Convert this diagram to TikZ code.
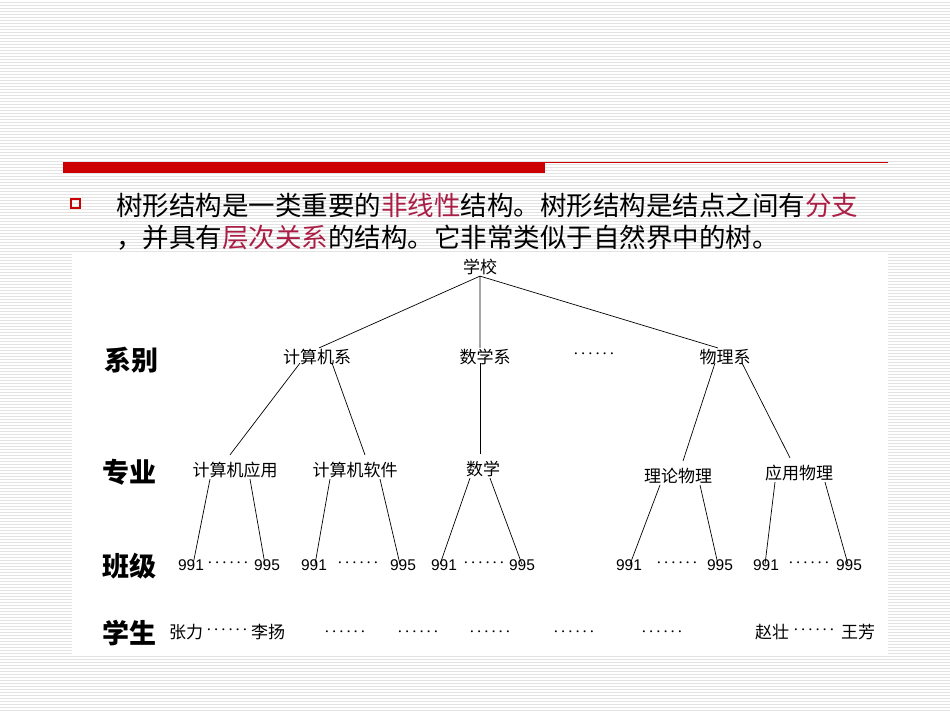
\documentclass[tikz,border=0pt]{standalone}
\usepackage{fontspec}
\setmainfont{Liberation Sans}
\newfontfamily\cjk{Noto Sans CJK SC}
\begin{document}
\begin{tikzpicture}[x=1pt,y=-1pt,
  tn/.style={font=\cjk\fontsize{17}{17}\selectfont,inner sep=1pt},
  num/.style={font=\fontsize{15.5}{15.5}\selectfont,inner sep=1pt},
  dd/.style={font=\cjk\bfseries\fontsize{7.2}{7.2}\selectfont,inner sep=1pt},
  lab/.style={font=\cjk\bfseries\fontsize{27}{27}\selectfont,inner sep=0pt},
  edge/.style={draw,line width=0.7pt}]
\useasboundingbox (0,0) rectangle (950,713);
\fill[white] (0,0) rectangle (950,713);
\foreach \y in {2,5,...,712} \draw[black!11,line width=0.8pt] (0,\y) -- (950,\y);
\fill[white] (72,252) rectangle (888,655);
\fill[red!80!black] (63,162) rectangle (545,173);
\draw[red!80!black,line width=0.8pt] (545,162) -- (888,162);
\draw[red!80!black,line width=1.3pt] (71,199) rectangle (80,208);
\node[anchor=west,inner sep=0pt,font=\cjk\fontsize{26.5}{26.5}\selectfont] (l1) at (116,205)
 {树形结构是一类重要的\textcolor[RGB]{170,30,70}{非线性}结构。树形结构是结点之间有\textcolor[RGB]{170,30,70}{分支}};
\node[anchor=west,inner sep=0pt,font=\cjk\fontsize{26.5}{26.5}\selectfont] (l2) at (116,238)
 {，并具有\textcolor[RGB]{170,30,70}{层次关系}的结构。它非常类似于自然界中的树。};
% labels
\node[lab] (xb) at (131,360) {系别};
\node[lab] (zy) at (129,472) {专业};
\node[lab] (bj) at (129,566) {班级};
\node[lab] (xs) at (129,633) {学生};
% tree
\node[tn] (root) at (480,267) {学校};
\node[tn] (jsj) at (317,357) {计算机系};
\node[tn] (sx) at (485,357) {数学系};
\node[dd] (dots1) at (594,355) {······};
\node[tn] (wl) at (725,357) {物理系};
\node[tn] (jy) at (235,470) {计算机应用};
\node[tn] (jr) at (355,470) {计算机软件};
\node[tn] (sxz) at (483,469) {数学};
\node[tn] (ll) at (678,476) {理论物理};
\node[tn] (yy) at (799,473) {应用物理};
\foreach \n/\a/\d/\b in {a/191/228/267, b/314/358/403, c/444/484/522, d/629/677/720, e/766/809/849}{
  \node[num] (\n1) at (\a,565) {991};
  \node[dd] (\n d) at (\d,564) {······};
  \node[num] (\n5) at (\b,565) {995};
}
\node[tn] (s1) at (186,632) {张力};
\node[dd] (s2) at (227,631) {······};
\node[tn] (s3) at (268,632) {李扬};
\node[dd] (s4) at (345,633) {······};
\node[dd] (s5) at (418,633) {······};
\node[dd] (s6) at (490,633) {······};
\node[dd] (s7) at (574,633) {······};
\node[dd] (s8) at (662,633) {······};
\node[tn] (s9) at (772,632) {赵壮};
\node[dd] (s10) at (814,631) {······};
\node[tn] (s11) at (858,632) {王芳};
\path[edge] (root.south) -- ([xshift=2pt]jsj.north) (root.south) -- ([xshift=-5pt]sx.north) (root.south) -- ([xshift=-7pt]wl.north);
\path[edge] ([xshift=-17pt,yshift=3pt]jsj.south) -- ([xshift=-5pt,yshift=6pt]jy.north);
\path[edge] ([xshift=15pt,yshift=3pt]jsj.south) -- ([xshift=10pt,yshift=6pt]jr.north);
\path[edge] ([xshift=-5pt,yshift=3pt]sx.south) -- ([xshift=-3pt,yshift=6pt]sxz.north);
\path[edge] ([xshift=-10pt,yshift=3pt]wl.south) -- ([xshift=5pt,yshift=6pt]ll.north);
\path[edge] ([xshift=17pt,yshift=3pt]wl.south) -- ([xshift=-9pt,yshift=6pt]yy.north);
\path[edge] ([xshift=-25pt]jy.south) -- ([xshift=2pt,yshift=-6pt]a1.north);
\path[edge] ([xshift=15pt]jy.south) -- ([xshift=-2pt,yshift=-6pt]a5.north);
\path[edge] ([xshift=-25pt]jr.south) -- ([xshift=1pt,yshift=-6pt]b1.north);
\path[edge] ([xshift=25pt]jr.south) -- ([xshift=-3pt,yshift=-6pt]b5.north);
\path[edge] ([xshift=-13pt]sxz.south) -- ([xshift=-4pt,yshift=-6pt]c1.north);
\path[edge] ([xshift=7pt]sxz.south) -- ([xshift=0pt,yshift=-6pt]c5.north);
\path[edge] ([xshift=-18pt]ll.south) -- ([xshift=1pt,yshift=-6pt]d1.north);
\path[edge] ([xshift=22pt]ll.south) -- ([xshift=-2pt,yshift=-6pt]d5.north);
\path[edge] ([xshift=-24pt]yy.south) -- ([xshift=-1pt,yshift=-6pt]e1.north);
\path[edge] ([xshift=26pt]yy.south) -- ([xshift=-1pt,yshift=-6pt]e5.north);
\end{tikzpicture}
\end{document}
